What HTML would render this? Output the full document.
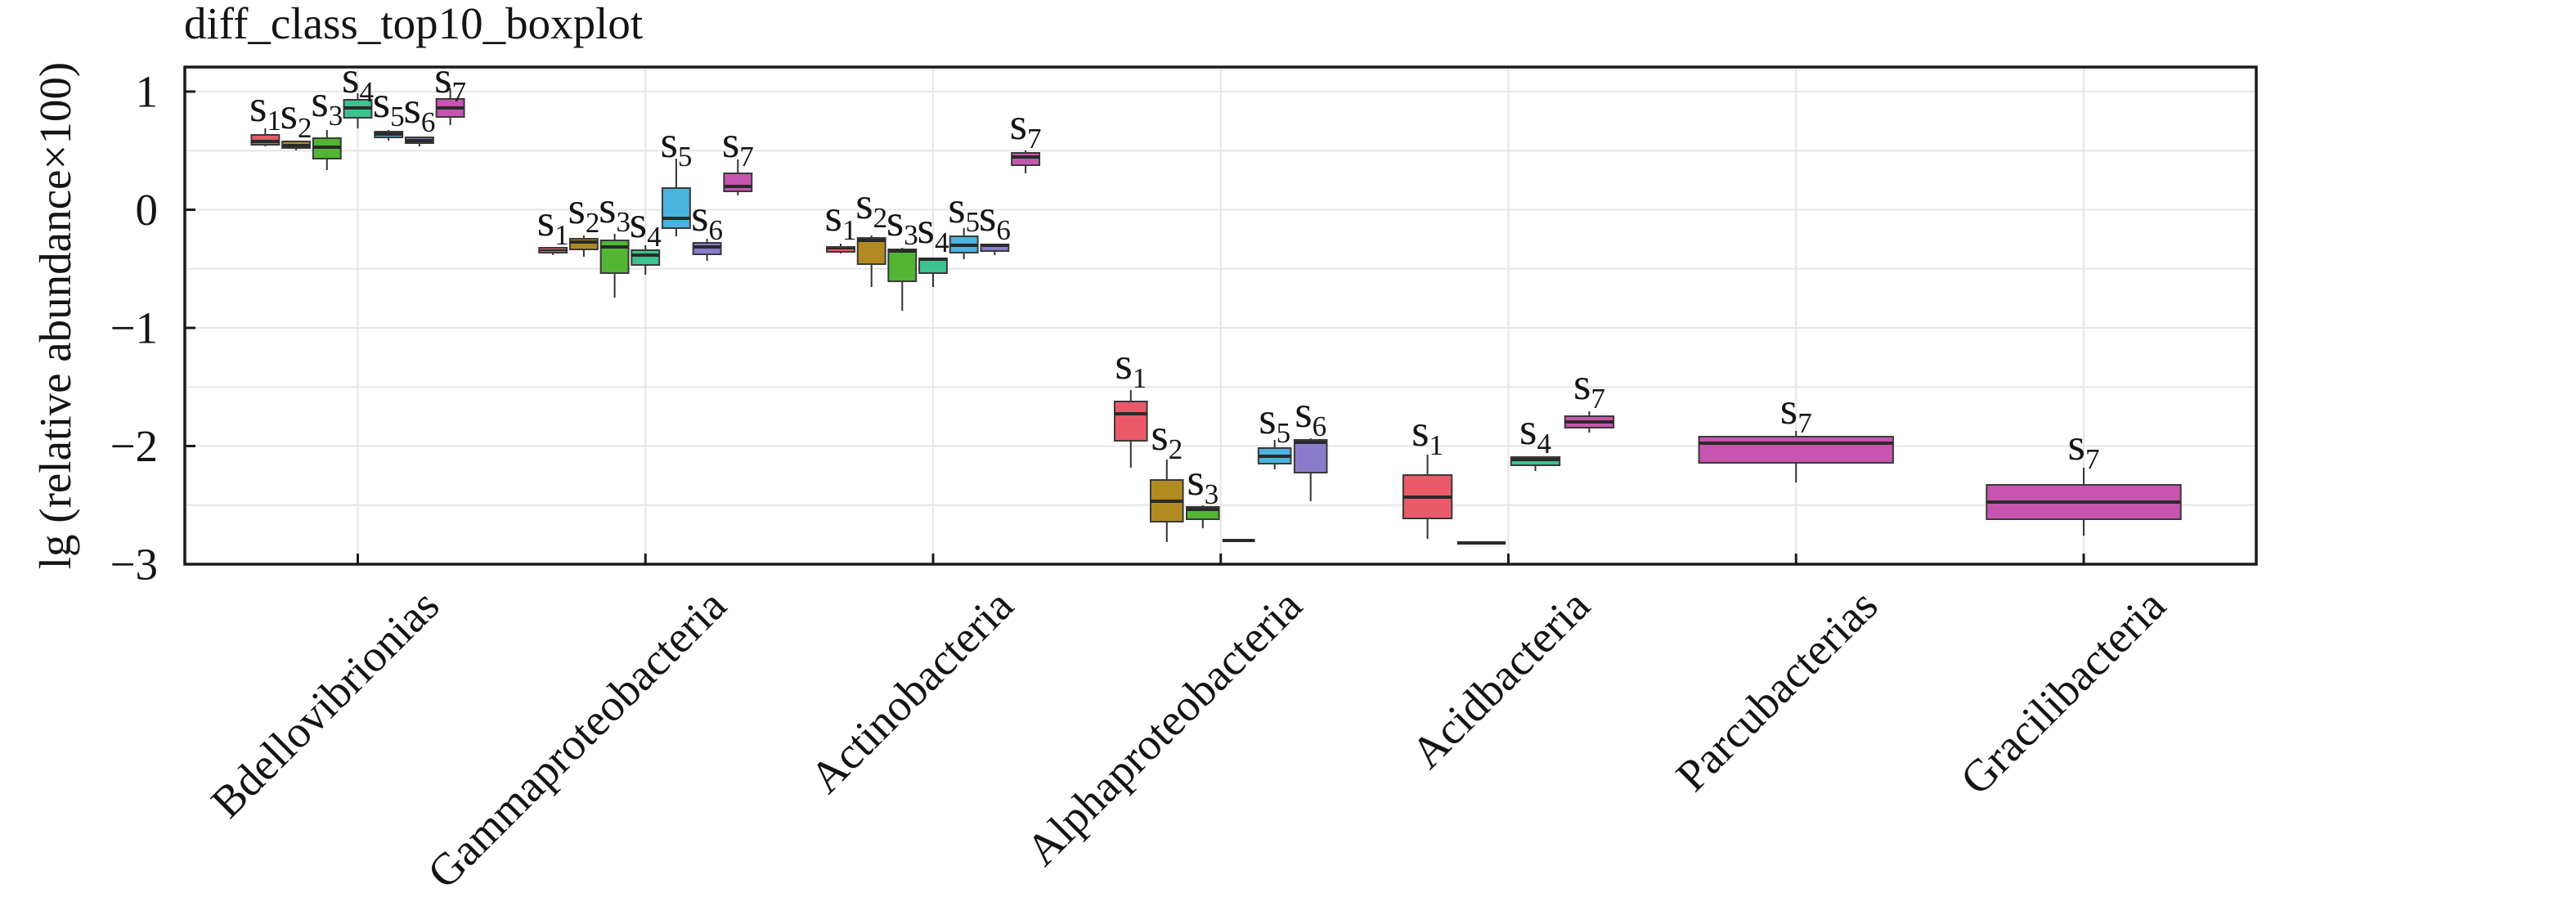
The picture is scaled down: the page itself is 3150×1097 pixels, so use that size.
<!DOCTYPE html>
<html><head><meta charset="utf-8"><style>
html,body{margin:0;padding:0;background:#fff;}
svg{display:block;}
text{font-family:"Liberation Serif","DejaVu Serif",serif;fill:#141414;}
.g{stroke:#e6e6e6;stroke-width:2;}
.w{stroke:#333;stroke-width:2;}
.b{stroke:#3a3a3a;stroke-width:2;}
.m{stroke:#2a2a2a;stroke-width:4;}
.l{font-size:55px;text-anchor:middle;}
.t{font-size:55px;text-anchor:end;}
.c1{fill:#ec5a6a}.c2{fill:#b18b22}.c3{fill:#52b634}.c4{fill:#3ec28f}.c5{fill:#4bb3e0}.c6{fill:#8b7ccb}.c7{fill:#c755b0}
</style></head><body>
<svg width="3150" height="1097" viewBox="0 0 3150 1097" xmlns="http://www.w3.org/2000/svg">
<rect x="0" y="0" width="3150" height="1097" fill="#fff"/>
<!-- grid -->
<g class="g">
<line x1="226" x2="2759" y1="112" y2="112"/>
<line x1="226" x2="2759" y1="184.25" y2="184.25"/>
<line x1="226" x2="2759" y1="256.5" y2="256.5"/>
<line x1="226" x2="2759" y1="328.75" y2="328.75"/>
<line x1="226" x2="2759" y1="401" y2="401"/>
<line x1="226" x2="2759" y1="473.25" y2="473.25"/>
<line x1="226" x2="2759" y1="545.5" y2="545.5"/>
<line x1="226" x2="2759" y1="617.75" y2="617.75"/>
<line x1="437.5" x2="437.5" y1="82" y2="690"/>
<line x1="789.25" x2="789.25" y1="82" y2="690"/>
<line x1="1141" x2="1141" y1="82" y2="690"/>
<line x1="1492.75" x2="1492.75" y1="82" y2="690"/>
<line x1="1844.5" x2="1844.5" y1="82" y2="690"/>
<line x1="2196.25" x2="2196.25" y1="82" y2="690"/>
<line x1="2548" x2="2548" y1="82" y2="690"/>
</g>

<!-- Bdellovibrionias -->
<g>
<line class="w" x1="324.4" x2="324.4" y1="157" y2="165"/><line class="w" x1="324.4" x2="324.4" y1="177" y2="179"/>
<rect class="b c1" x="307.45" y="165" width="33.9" height="12"/><line class="m" x1="307.45" x2="341.35" y1="173" y2="173"/>
<line class="w" x1="362.1" x2="362.1" y1="172" y2="173"/><line class="w" x1="362.1" x2="362.1" y1="181" y2="184"/>
<rect class="b c2" x="345.15" y="173" width="33.9" height="8"/><line class="m" x1="345.15" x2="379.05" y1="178" y2="178"/>
<line class="w" x1="399.8" x2="399.8" y1="159" y2="169"/><line class="w" x1="399.8" x2="399.8" y1="194" y2="208"/>
<rect class="b c3" x="382.85" y="169" width="33.9" height="25"/><line class="m" x1="382.85" x2="416.75" y1="180" y2="180"/>
<line class="w" x1="437.5" x2="437.5" y1="114" y2="122"/><line class="w" x1="437.5" x2="437.5" y1="144" y2="157"/>
<rect class="b c4" x="420.55" y="122" width="33.9" height="22"/><line class="m" x1="420.55" x2="454.45" y1="132" y2="132"/>
<line class="w" x1="475.2" x2="475.2" y1="159" y2="161"/><line class="w" x1="475.2" x2="475.2" y1="168" y2="172"/>
<rect class="b c5" x="458.25" y="161" width="33.9" height="7"/><line class="m" x1="458.25" x2="492.15" y1="164" y2="164"/>
<line class="w" x1="512.9" x2="512.9" y1="167" y2="168"/><line class="w" x1="512.9" x2="512.9" y1="175" y2="179"/>
<rect class="b c6" x="495.95" y="168" width="33.9" height="7"/><line class="m" x1="495.95" x2="529.85" y1="172" y2="172"/>
<line class="w" x1="550.6" x2="550.6" y1="108" y2="121"/><line class="w" x1="550.6" x2="550.6" y1="143" y2="153"/>
<rect class="b c7" x="533.65" y="121" width="33.9" height="22"/><line class="m" x1="533.65" x2="567.55" y1="132" y2="132"/>
</g>

<!-- Gammaproteobacteria -->
<g>
<line class="w" x1="676.2" x2="676.2" y1="309" y2="312"/>
<rect class="b c1" x="659.25" y="303" width="33.9" height="6"/><line class="m" x1="659.25" x2="693.15" y1="306" y2="306" style="stroke-width:2"/>
<line class="w" x1="713.9" x2="713.9" y1="288" y2="292"/><line class="w" x1="713.9" x2="713.9" y1="305" y2="314"/>
<rect class="b c2" x="696.95" y="292" width="33.9" height="13"/><line class="m" x1="696.95" x2="730.85" y1="296" y2="296"/>
<line class="w" x1="751.6" x2="751.6" y1="286" y2="294"/><line class="w" x1="751.6" x2="751.6" y1="334" y2="364"/>
<rect class="b c3" x="734.65" y="294" width="33.9" height="40"/><line class="m" x1="734.65" x2="768.55" y1="302" y2="302"/>
<line class="w" x1="789.25" x2="789.25" y1="300" y2="306"/><line class="w" x1="789.25" x2="789.25" y1="324" y2="336"/>
<rect class="b c4" x="772.3" y="306" width="33.9" height="18"/><line class="m" x1="772.3" x2="806.2" y1="312" y2="312"/>
<line class="w" x1="826.9" x2="826.9" y1="194" y2="230"/><line class="w" x1="826.9" x2="826.9" y1="279" y2="289"/>
<rect class="b c5" x="809.95" y="230" width="33.9" height="49"/><line class="m" x1="809.95" x2="843.85" y1="267" y2="267"/>
<line class="w" x1="864.6" x2="864.6" y1="292" y2="297"/><line class="w" x1="864.6" x2="864.6" y1="311" y2="319"/>
<rect class="b c6" x="847.65" y="297" width="33.9" height="14"/><line class="m" x1="847.65" x2="881.55" y1="302" y2="302"/>
<line class="w" x1="902.3" x2="902.3" y1="195" y2="212"/><line class="w" x1="902.3" x2="902.3" y1="234" y2="239"/>
<rect class="b c7" x="885.35" y="212" width="33.9" height="22"/><line class="m" x1="885.35" x2="919.25" y1="228" y2="228"/>
</g>

<!-- Actinobacteria -->
<g>
<line class="w" x1="1028" x2="1028" y1="298" y2="302"/><line class="w" x1="1028" x2="1028" y1="308" y2="310"/>
<rect class="b c1" x="1011.05" y="302" width="33.9" height="6"/><line class="m" x1="1011.05" x2="1044.95" y1="304" y2="304" style="stroke-width:2"/>
<line class="w" x1="1065.7" x2="1065.7" y1="288" y2="291"/><line class="w" x1="1065.7" x2="1065.7" y1="323" y2="351"/>
<rect class="b c2" x="1048.75" y="291" width="33.9" height="32"/><line class="m" x1="1048.75" x2="1082.65" y1="294" y2="294"/>
<line class="w" x1="1103.3" x2="1103.3" y1="303" y2="305"/><line class="w" x1="1103.3" x2="1103.3" y1="344" y2="380"/>
<rect class="b c3" x="1086.35" y="305" width="33.9" height="39"/><line class="m" x1="1086.35" x2="1120.25" y1="307" y2="307"/>
<line class="w" x1="1141" x2="1141" y1="334" y2="351"/>
<rect class="b c4" x="1124.05" y="316" width="33.9" height="18"/><line class="m" x1="1124.05" x2="1157.95" y1="317" y2="317"/>
<line class="w" x1="1178.7" x2="1178.7" y1="279" y2="289"/><line class="w" x1="1178.7" x2="1178.7" y1="309" y2="317"/>
<rect class="b c5" x="1161.75" y="289" width="33.9" height="20"/><line class="m" x1="1161.75" x2="1195.65" y1="300" y2="300"/>
<line class="w" x1="1216.4" x2="1216.4" y1="298" y2="299"/><line class="w" x1="1216.4" x2="1216.4" y1="307" y2="312"/>
<rect class="b c6" x="1199.45" y="299" width="33.9" height="8"/><line class="m" x1="1199.45" x2="1233.35" y1="300" y2="300"/>
<line class="w" x1="1254.1" x2="1254.1" y1="184" y2="187"/><line class="w" x1="1254.1" x2="1254.1" y1="202" y2="212"/>
<rect class="b c7" x="1237.15" y="187" width="33.9" height="15"/><line class="m" x1="1237.15" x2="1271.05" y1="192" y2="192"/>
</g>

<!-- Alphaproteobacteria -->
<g>
<line class="w" x1="1382.8" x2="1382.8" y1="477" y2="491"/><line class="w" x1="1382.8" x2="1382.8" y1="539" y2="572"/>
<rect class="b c1" x="1363" y="491" width="39.6" height="48"/><line class="m" x1="1363" x2="1402.6" y1="506" y2="506"/>
<line class="w" x1="1426.8" x2="1426.8" y1="562" y2="587"/><line class="w" x1="1426.8" x2="1426.8" y1="638" y2="663"/>
<rect class="b c2" x="1407" y="587" width="39.6" height="51"/><line class="m" x1="1407" x2="1446.6" y1="613" y2="613"/>
<line class="w" x1="1470.8" x2="1470.8" y1="618" y2="620"/><line class="w" x1="1470.8" x2="1470.8" y1="635" y2="646"/>
<rect class="b c3" x="1451" y="620" width="39.6" height="15"/><line class="m" x1="1451" x2="1490.6" y1="623" y2="623"/>
<line class="m" x1="1494.9" x2="1534.5" y1="661" y2="661"/>
<line class="w" x1="1558.7" x2="1558.7" y1="538" y2="548"/><line class="w" x1="1558.7" x2="1558.7" y1="567" y2="574"/>
<rect class="b c5" x="1538.9" y="548" width="39.6" height="19"/><line class="m" x1="1538.9" x2="1578.5" y1="558" y2="558"/>
<line class="w" x1="1602.7" x2="1602.7" y1="536" y2="538"/><line class="w" x1="1602.7" x2="1602.7" y1="578" y2="613"/>
<rect class="b c6" x="1582.9" y="538" width="39.6" height="40"/><line class="m" x1="1582.9" x2="1622.5" y1="541" y2="541"/>
</g>

<!-- Acidbacteria -->
<g>
<line class="w" x1="1745.6" x2="1745.6" y1="556" y2="581"/><line class="w" x1="1745.6" x2="1745.6" y1="634" y2="659"/>
<rect class="b c1" x="1715.9" y="581" width="59.4" height="53"/><line class="m" x1="1715.9" x2="1775.3" y1="608" y2="608"/>
<line class="m" x1="1781.8" x2="1841.2" y1="664" y2="664"/>
<line class="w" x1="1877.5" x2="1877.5" y1="569" y2="576"/>
<rect class="b c4" x="1847.8" y="559" width="59.4" height="10"/><line class="m" x1="1847.8" x2="1907.2" y1="562" y2="562"/>
<line class="w" x1="1943.4" x2="1943.4" y1="503" y2="509"/><line class="w" x1="1943.4" x2="1943.4" y1="523" y2="529"/>
<rect class="b c7" x="1913.7" y="509" width="59.4" height="14"/><line class="m" x1="1913.7" x2="1973.1" y1="516" y2="516"/>
</g>

<!-- Parcubacterias / Gracilibacteria -->
<g>
<line class="w" x1="2196.25" x2="2196.25" y1="527" y2="534"/><line class="w" x1="2196.25" x2="2196.25" y1="566" y2="590"/>
<rect class="b c7" x="2077.55" y="534" width="237.4" height="32"/><line class="m" x1="2077.55" x2="2314.95" y1="542" y2="542"/>
<line class="w" x1="2548" x2="2548" y1="572" y2="593"/><line class="w" x1="2548" x2="2548" y1="635" y2="655"/>
<rect class="b c7" x="2429.3" y="593" width="237.4" height="42"/><line class="m" x1="2429.3" x2="2666.7" y1="614" y2="614"/>
</g>

<!-- sample labels -->
<g class="l">
<text class="l" x="324.4" y="148">s<tspan dy="11" font-size="35">1</tspan></text>
<text class="l" x="362.1" y="157">s<tspan dy="11" font-size="35">2</tspan></text>
<text class="l" x="399.8" y="142">s<tspan dy="11" font-size="35">3</tspan></text>
<text class="l" x="437.5" y="113">s<tspan dy="11" font-size="35">4</tspan></text>
<text class="l" x="475.2" y="143">s<tspan dy="11" font-size="35">5</tspan></text>
<text class="l" x="512.9" y="150">s<tspan dy="11" font-size="35">6</tspan></text>
<text class="l" x="550.6" y="113">s<tspan dy="11" font-size="35">7</tspan></text>

<text class="l" x="676.2" y="288">s<tspan dy="11" font-size="35">1</tspan></text>
<text class="l" x="713.9" y="273">s<tspan dy="11" font-size="35">2</tspan></text>
<text class="l" x="751.6" y="272">s<tspan dy="11" font-size="35">3</tspan></text>
<text class="l" x="789.25" y="290">s<tspan dy="11" font-size="35">4</tspan></text>
<text class="l" x="826.9" y="192">s<tspan dy="11" font-size="35">5</tspan></text>
<text class="l" x="864.6" y="282">s<tspan dy="11" font-size="35">6</tspan></text>
<text class="l" x="902.3" y="192">s<tspan dy="11" font-size="35">7</tspan></text>

<text class="l" x="1028" y="282">s<tspan dy="11" font-size="35">1</tspan></text>
<text class="l" x="1065.7" y="267">s<tspan dy="11" font-size="35">2</tspan></text>
<text class="l" x="1103.3" y="288">s<tspan dy="11" font-size="35">3</tspan></text>
<text class="l" x="1141" y="297">s<tspan dy="11" font-size="35">4</tspan></text>
<text class="l" x="1178.7" y="272">s<tspan dy="11" font-size="35">5</tspan></text>
<text class="l" x="1216.4" y="282">s<tspan dy="11" font-size="35">6</tspan></text>
<text class="l" x="1254.1" y="170">s<tspan dy="11" font-size="35">7</tspan></text>

<text class="l" x="1382.8" y="463">s<tspan dy="11" font-size="35">1</tspan></text>
<text class="l" x="1426.8" y="550">s<tspan dy="11" font-size="35">2</tspan></text>
<text class="l" x="1470.8" y="605">s<tspan dy="11" font-size="35">3</tspan></text>
<text class="l" x="1558.7" y="530">s<tspan dy="11" font-size="35">5</tspan></text>
<text class="l" x="1602.7" y="522">s<tspan dy="11" font-size="35">6</tspan></text>

<text class="l" x="1745.6" y="545">s<tspan dy="11" font-size="35">1</tspan></text>
<text class="l" x="1877.5" y="543">s<tspan dy="11" font-size="35">4</tspan></text>
<text class="l" x="1943.4" y="488">s<tspan dy="11" font-size="35">7</tspan></text>

<text class="l" x="2196.25" y="518">s<tspan dy="11" font-size="35">7</tspan></text>
<text class="l" x="2548" y="562">s<tspan dy="11" font-size="35">7</tspan></text>
</g>

<!-- axes frame and ticks -->
<rect x="226" y="82" width="2533" height="608" fill="none" stroke="#1a1a1a" stroke-width="3.5"/>
<g stroke="#1a1a1a" stroke-width="3">
<line x1="226" x2="239" y1="112" y2="112"/>
<line x1="226" x2="239" y1="256.5" y2="256.5"/>
<line x1="226" x2="239" y1="401" y2="401"/>
<line x1="226" x2="239" y1="545.5" y2="545.5"/>
<line x1="437.5" x2="437.5" y1="690" y2="677"/>
<line x1="789.25" x2="789.25" y1="690" y2="677"/>
<line x1="1141" x2="1141" y1="690" y2="677"/>
<line x1="1492.75" x2="1492.75" y1="690" y2="677"/>
<line x1="1844.5" x2="1844.5" y1="690" y2="677"/>
<line x1="2196.25" x2="2196.25" y1="690" y2="677"/>
<line x1="2548" x2="2548" y1="690" y2="677"/>
</g>

<!-- y tick labels -->
<text class="t" x="193" y="130.5">1</text>
<text class="t" x="193" y="275">0</text>
<text class="t" x="193" y="419.5">−1</text>
<text class="t" x="193" y="564">−2</text>
<text class="t" x="193" y="708.5">−3</text>

<!-- y axis label -->
<text transform="translate(86,386) rotate(-90)" style="font-size:55px;text-anchor:middle">lg (relative abundance×100)</text>

<!-- title -->
<text x="225" y="47" style="font-size:55px">diff_class_top10_boxplot</text>

<!-- x tick labels -->
<g style="font-size:55px;text-anchor:end">
<text transform="translate(540,744) rotate(-45)">Bdellovibrionias</text>
<text transform="translate(891,744) rotate(-45)">Gammaproteobacteria</text>
<text transform="translate(1242,744) rotate(-45)">Actinobacteria</text>
<text transform="translate(1595,744) rotate(-45)">Alphaproteobacteria</text>
<text transform="translate(1947,744) rotate(-45)">Acidbacteria</text>
<text transform="translate(2299,744) rotate(-45)">Parcubacterias</text>
<text transform="translate(2651,744) rotate(-45)">Gracilibacteria</text>
</g>
</svg>
</body></html>
